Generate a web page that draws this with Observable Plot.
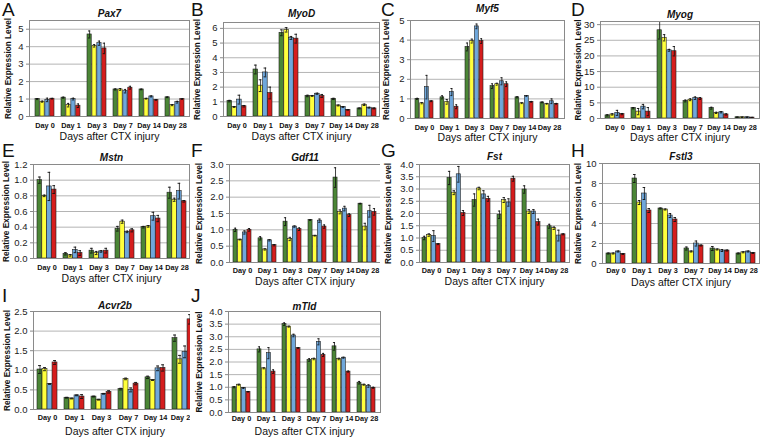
<!DOCTYPE html>
<html><head><meta charset="utf-8">
<script src="https://cdn.jsdelivr.net/npm/d3@7"></script>
<script src="https://cdn.jsdelivr.net/npm/@observablehq/plot@0.6"></script>
<style>
body{margin:0;background:#fff;}
#root{position:relative;width:760px;height:437px;overflow:hidden;font-family:"Liberation Sans",Arial,sans-serif;background:#fff;}
#root svg{position:absolute;}
.letter{position:absolute;font-size:19px;line-height:1;color:#111;font-family:"Liberation Sans",Arial,sans-serif;}
</style></head><body><div id="root"></div>
<script>
// categories
const days = ["Day 0","Day 1","Day 3","Day 7","Day 14","Day 28"];
const groups = ["Group 1","Group 2","Group 3","Group 4"];
const xLabel = "Days after CTX injury";
const yLabel = "Relative Expression Level";

// values: one row per group (green, yellow, blue, red), one column per day
const pax7Mean = [[1.0,1.08,4.7,1.55,1.55,1.1],[0.85,0.65,4.05,1.55,1.02,0.65],[0.95,1.0,4.2,1.45,1.15,0.82],[1.02,0.62,3.9,1.65,0.95,1.0]];
const pax7Err  = [[0.03,0.03,0.2,0.03,0.02,0.02],[0.03,0.1,0.07,0.05,0.02,0.03],[0.1,0.05,0.12,0.1,0.03,0.05],[0.02,0.1,0.3,0.08,0.02,0.02]];
const myodMean = [[1.05,3.2,5.7,1.4,1.2,0.55],[0.65,2.1,5.9,1.4,0.75,0.8],[1.15,3.0,5.35,1.55,0.65,0.6],[0.7,1.6,5.3,1.4,0.45,0.55]];
const myodErr  = [[0.05,0.3,0.2,0.05,0.04,0.03],[0.03,0.4,0.15,0.03,0.03,0.05],[0.3,0.3,0.1,0.04,0.03,0.03],[0.05,0.4,0.3,0.1,0.02,0.03]];
const myf5Mean = [[1.0,1.08,3.65,1.65,1.08,0.82],[0.78,0.85,3.95,1.75,0.78,0.75],[1.6,1.35,4.7,1.9,1.15,0.88],[0.88,0.6,3.95,1.75,0.85,0.75]];
const myf5Err  = [[0.03,0.08,0.2,0.12,0.03,0.02],[0.03,0.12,0.1,0.05,0.02,0.02],[0.6,0.18,0.12,0.18,0.02,0.12],[0.02,0.1,0.12,0.12,0.02,0.02]];
const myogMean = [[1.0,3.3,28.2,5.6,3.3,0.4],[1.3,2.2,25.8,6.0,1.8,0.4],[1.8,3.8,21.8,6.5,2.0,0.4],[1.4,2.2,21.5,6.4,1.3,0.3]];
const myogErr  = [[0.2,0.2,2.8,0.3,0.3,0.05],[0.2,1.0,1.0,0.3,0.2,0.05],[0.8,0.7,0.3,0.4,0.2,0.05],[0.2,1.3,1.5,0.3,0.2,0.05]];
const mstnMean = [[1.0,0.06,0.1,0.38,0.4,0.84],[0.8,0.04,0.07,0.47,0.41,0.75],[0.92,0.11,0.09,0.34,0.54,0.86],[0.88,0.07,0.1,0.36,0.51,0.73]];
const mstnErr  = [[0.04,0.015,0.03,0.03,0.01,0.07],[0.01,0.01,0.02,0.02,0.01,0.02],[0.18,0.035,0.01,0.01,0.05,0.1],[0.05,0.03,0.03,0.02,0.04,0.01]];
const gdf11Mean = [[1.0,0.74,1.25,1.3,2.6,1.8],[0.7,0.4,0.72,0.82,1.55,1.1],[0.92,0.68,1.1,1.28,1.65,1.57],[1.0,0.53,1.02,1.1,1.45,1.55]];
const gdf11Err  = [[0.05,0.05,0.12,0.01,0.3,0.01],[0.01,0.02,0.05,0.01,0.06,0.1],[0.05,0.02,0.02,0.05,0.07,0.18],[0.04,0.02,0.04,0.05,0.04,0.1]];
const fstMean = [[1.0,3.45,2.55,1.95,2.98,1.48],[1.12,2.85,3.02,2.55,2.08,1.4],[1.08,3.6,2.78,2.45,2.08,1.1],[0.75,2.02,2.6,3.42,1.65,1.15]];
const fstErr  = [[0.07,0.27,0.25,0.15,0.15,0.08],[0.05,0.08,0.05,0.1,0.08,0.05],[0.22,0.32,0.15,0.15,0.08,0.22],[0.02,0.1,0.1,0.1,0.12,0.02]];
const fstl3Mean = [[1.0,8.5,5.5,1.5,1.5,1.0],[1.0,6.1,5.4,1.2,1.4,1.12],[1.2,7.0,4.8,2.0,1.3,1.2],[0.95,5.3,4.4,1.8,1.3,1.05]];
const fstl3Err  = [[0.05,0.4,0.05,0.15,0.2,0.05],[0.05,0.2,0.05,0.05,0.05,0.05],[0.05,0.6,0.2,0.25,0.1,0.05],[0.05,0.2,0.2,0.05,0.05,0.05]];
const acvr2bMean = [[1.02,0.3,0.33,0.52,0.82,1.82],[1.03,0.28,0.25,0.78,0.75,1.28],[0.65,0.36,0.4,0.5,1.05,1.47],[1.2,0.33,0.45,0.66,1.06,2.3]];
const acvr2bErr  = [[0.1,0.01,0.01,0.02,0.03,0.08],[0.04,0.01,0.01,0.02,0.01,0.1],[0.01,0.01,0.01,0.05,0.06,0.15],[0.05,0.05,0.03,0.03,0.08,0.12]];
const mtldMean = [[1.0,2.5,3.5,2.08,2.62,1.18],[1.1,1.75,3.4,2.12,2.12,1.1],[0.97,2.35,3.05,2.8,2.17,1.05],[0.82,1.62,2.55,2.28,1.62,0.98]];
const mtldErr  = [[0.02,0.1,0.05,0.05,0.15,0.05],[0.02,0.02,0.02,0.03,0.03,0.02],[0.02,0.22,0.05,0.12,0.02,0.05],[0.01,0.07,0.02,0.06,0.02,0.02]];

// tick labels
const ticks0to5 = [0,1,2,3,4,5];
const ticks0to6 = [0,1,2,3,4,5,6];
const ticks0to30 = [0,5,10,15,20,25,30];
const ticks0to12 = [0,0.2,0.4,0.6,0.8,1.0,1.2];
const ticks0to3 = [0,0.5,1.0,1.5,2.0,2.5,3.0];
const ticks0to4 = [0,0.5,1.0,1.5,2.0,2.5,3.0,3.5,4.0];
const ticks0to10 = [0,2,4,6,8,10];
const ticks0to25 = [0,0.5,1.0,1.5,2.0,2.5];

// styles
const colors = ["#4b8636","#ffff3c","#6fa7db","#d51d1d"];
const FONT = "Liberation Sans, Arial, sans-serif";

// layout
const panels = [
 {gene:"Pax7", letter:"A", mean:pax7Mean, err:pax7Err, ticks:ticks0to5, fmt:"d", ymax:5.5, box:[0,0,190,145], fl:29, fr:189, y0:116, ytop:20, tb:17, yl:7.5, xl:136, tp:6, lx:2, ly:0},
 {gene:"MyoD", letter:"B", mean:myodMean, err:myodErr, ticks:ticks0to6, fmt:"d", ymax:6.4, box:[190,0,190,145], fl:223, fr:379, y0:116, ytop:22, tb:17, yl:197, xl:136, tp:6, lx:191, ly:0},
 {gene:"Myf5", letter:"C", mean:myf5Mean, err:myf5Err, ticks:ticks0to5, fmt:"d", ymax:5, box:[380,0,190,145], fl:410, fr:564, y0:118, ytop:20, tb:12, yl:386, xl:137, tp:6, lx:381, ly:0},
 {gene:"Myog", letter:"D", mean:myogMean, err:myogErr, ticks:ticks0to30, fmt:"d", ymax:31, box:[570,0,190,145], fl:600, fr:759, y0:118, ytop:21, tb:18, yl:577.5, xl:137, tp:6, lx:571, ly:0},
 {gene:"Mstn", letter:"E", mean:mstnMean, err:mstnErr, ticks:ticks0to12, fmt:".1f", ymax:1.2, box:[0,145,190,145], fl:33, fr:189, y0:258, ytop:164, tb:161, yl:6, xl:278, tp:6, lx:2, ly:141},
 {gene:"Gdf11", letter:"F", mean:gdf11Mean, err:gdf11Err, ticks:ticks0to3, fmt:".1f", ymax:3, box:[190,145,190,145], fl:229, fr:380, y0:262, ytop:164, tb:161, yl:199, xl:281.5, tp:5, lx:191, ly:141},
 {gene:"Fst", letter:"G", mean:fstMean, err:fstErr, ticks:ticks0to4, fmt:".1f", ymax:4, box:[380,145,190,145], fl:419, fr:569, y0:262, ytop:164, tb:160, yl:387.5, xl:281.5, tp:5, lx:381, ly:141},
 {gene:"Fstl3", letter:"H", mean:fstl3Mean, err:fstl3Err, ticks:ticks0to10, fmt:"d", ymax:10, box:[570,145,190,145], fl:602, fr:759, y0:263, ytop:163, tb:160, yl:577.5, xl:282.5, tp:4, lx:571, ly:141},
 {gene:"Acvr2b", letter:"I", mean:acvr2bMean, err:acvr2bErr, ticks:ticks0to25, fmt:".1f", ymax:2.5, box:[0,290,197,147], fl:33, fr:196, y0:409, ytop:311, tb:309, yl:6.5, xl:431, tp:5, lx:2, ly:286},
 {gene:"mTld", letter:"J", mean:mtldMean, err:mtldErr, ticks:ticks0to4, fmt:".1f", ymax:4, box:[190,290,190,147], fl:228, fr:380, y0:412, ytop:311, tb:310, yl:199, xl:431.5, tp:3, lx:191, ly:286}
];

const root = document.getElementById("root");
const PI = 0.27, PO = 0.1;

for (const p of panels) {
  const [bx, by, bw0, bh] = p.box;
  const ml = p.fl - bx, mr = bx + bw0 - p.fr, mt = p.ytop - by, mb = by + bh - p.y0;
  const fw = p.fr - p.fl;
  const step = fw / (days.length - PI + 2 * PO);
  const band = step * (1 - PI);
  const sw = band / 4;
  const cap = sw * 0.2;
  const rows = [];
  p.mean.forEach((vals, s) => vals.forEach((v, d) => rows.push({day: days[d], group: groups[s], s, v, e: p.err[s][d]})));
  const marks = [
    Plot.ruleY(p.ticks.filter(t => t > 0 && t < p.ymax), {stroke: "#b4b4b4", strokeWidth: 1})
  ];
  for (let s = 0; s < 4; s++) {
    const rs = rows.filter(r => r.s === s);
    marks.push(Plot.barY(rs, {x: "day", y: "v", fill: colors[s], stroke: "#1e1e1e", strokeWidth: 0.6,
      insetLeft: s * sw, insetRight: (3 - s) * sw}));
  }
  for (let s = 0; s < 4; s++) {
    const rs = rows.filter(r => r.s === s);
    marks.push(Plot.ruleX(rs, {x: "day", y1: r => Math.max(0, r.v - r.e), y2: r => r.v + r.e, dx: (s - 1.5) * sw, stroke: "#111", strokeWidth: 0.8}));
    marks.push(Plot.tickY(rs, {x: "day", y: r => r.v + r.e, stroke: "#111", strokeWidth: 0.9,
      insetLeft: s * sw + cap, insetRight: (3 - s) * sw + cap}));
    marks.push(Plot.tickY(rs, {x: "day", y: r => Math.max(0, r.v - r.e), stroke: "#111", strokeWidth: 0.9,
      insetLeft: s * sw + cap, insetRight: (3 - s) * sw + cap}));
  }
  marks.push(Plot.frame({stroke: "#8a8a8a", strokeWidth: 1}));
  marks.push(Plot.axisY(p.ticks, {tickFormat: d3.format(p.fmt), tickSize: 3, tickPadding: 3, fontSize: 9.5, stroke: "#8a8a8a", fill: "#222", label: null}));
  marks.push(Plot.axisX({tickSize: 0, tickPadding: p.tp, fontSize: 7.3, fontWeight: "bold", fill: "#111", label: null}));
  marks.push(Plot.text([xLabel], {frameAnchor: "bottom", lineAnchor: "middle", textAnchor: "middle", dy: p.xl - p.y0, fontSize: 10.5, fill: "#111", text: d => d}));
  marks.push(Plot.text([yLabel], {frameAnchor: "left", lineAnchor: "middle", textAnchor: "middle", dx: p.yl - p.fl, rotate: -90, fontSize: 8.2, fontWeight: "bold", fill: "#111", text: d => d}));
  marks.push(Plot.text([p.gene], {frameAnchor: "top", lineAnchor: "middle", textAnchor: "middle", dy: p.tb - p.ytop - 3.5, fontSize: 10, fontWeight: "bold", fontStyle: "italic", fill: "#111", text: d => d}));
  const svg = Plot.plot({
    width: bw0, height: bh,
    marginLeft: ml, marginRight: mr, marginTop: mt, marginBottom: mb,
    style: {fontFamily: FONT, background: "white", overflow: "visible"},
    x: {type: "band", domain: days, paddingInner: PI, paddingOuter: PO, align: 0.5},
    y: {domain: [0, p.ymax]},
    marks
  });
  svg.style.left = bx + "px";
  svg.style.top = by + "px";
  root.appendChild(svg);
}
for (const p of panels) {
  const d = document.createElement("div");
  d.className = "letter";
  d.textContent = p.letter;
  d.style.left = p.lx + "px";
  d.style.top = p.ly + "px";
  root.appendChild(d);
}
</script></body></html>
